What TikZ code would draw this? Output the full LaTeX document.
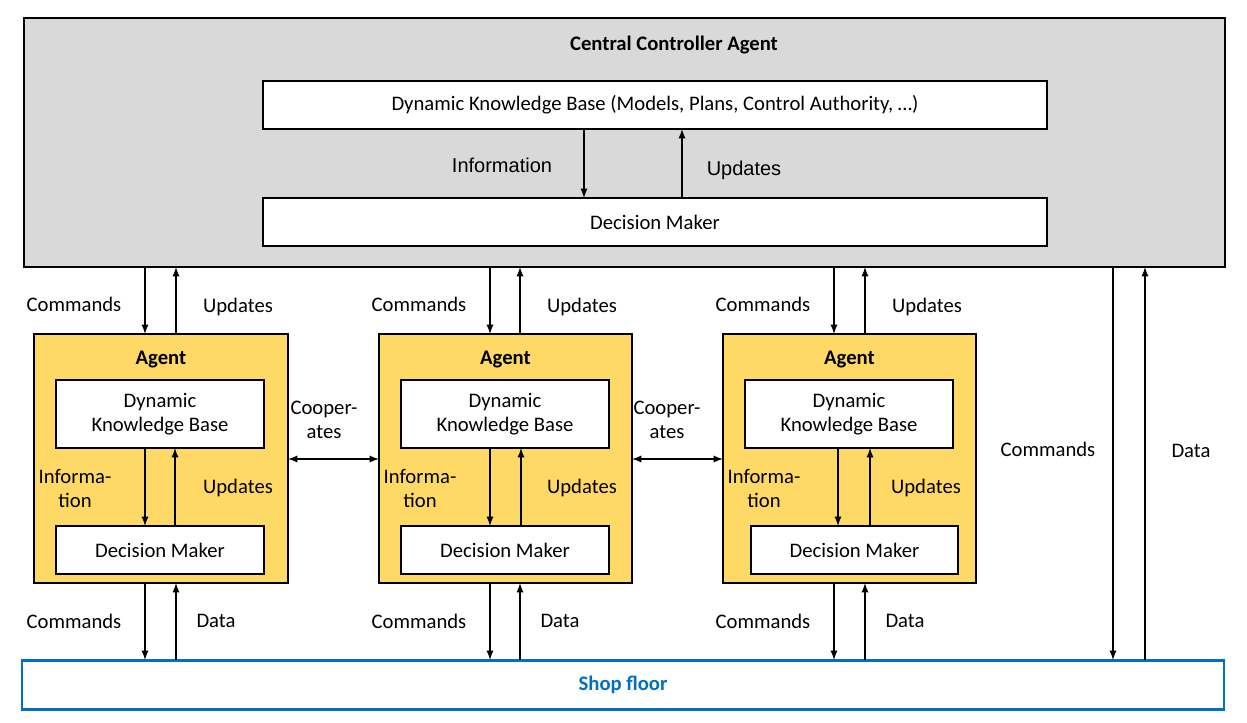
\documentclass[tikz,border=0pt]{standalone}
\usepackage{fontspec}
\setmainfont{Carlito}
\newfontfamily\arialf{Liberation Sans}
\begin{document}
\begin{tikzpicture}[x=0.75pt,y=-0.75pt,font=\fontsize{15.5}{18}\selectfont,
 box/.style={draw,line width=0.8pt,fill=white,inner sep=0},
 agent/.style={draw,line width=2pt,fill=agentY,inner sep=0},
 arr/.style={-latex,line width=1.4pt},
 lbl/.style={align=center,inner sep=1pt}]
\definecolor{agentY}{HTML}{FFD966}
\definecolor{cgray}{HTML}{D9D9D9}
\definecolor{sblue}{HTML}{0070C0}
\useasboundingbox (0,0) rectangle (1247,723);
% central
\path[draw,line width=2pt,fill=cgray] (24,18) rectangle (1225,267);
\node[font=\fontsize{15.5}{18}\selectfont\bfseries] (ct) at (674,45) {Central Controller Agent};
\node[box,minimum width=784*0.75pt,minimum height=48*0.75pt] (cdkb) at (655,105) {Dynamic Knowledge Base (Models, Plans, Control Authority, …)};
\node[box,minimum width=784*0.75pt,minimum height=48*0.75pt] (cdm) at (655,222) {Decision Maker};
\draw[arr] (584,129) -- (584,198);
\draw[arr] (682,198) -- (682,129);
\node[lbl,font=\arialf\fontsize{15}{18}\selectfont] (li) at (502,165) {Information};
\node[lbl,font=\arialf\fontsize{15}{18}\selectfont] (lu) at (744,170) {Updates};
% shop floor
\node[draw=sblue,line width=2pt,fill=white,minimum width=1202*0.75pt,minimum height=49*0.75pt,text=sblue,font=\fontsize{15.5}{18}\selectfont\bfseries] (sf) at (623,685) {Shop floor};
% agents
\foreach \i/\xl/\xr/\dx/\dy/\da/\db/\dl/\dr/\ta/\tb in {1/34/288/56/264/145/175/56/264/145/176,2/379/632/401/609/490/521/401/609/490/520,3/723/976/745/953/838/870/751/958/834/865}{
 \path[agent] (\xl,334) rectangle (\xr,583);
 \node[font=\fontsize{15.5}{18}\selectfont\bfseries] (ag\i) at ({(\xl+\xr)/2},360) {Agent};
 \path[box] (\dx,380) rectangle (\dy,448);
 \node[lbl] (dkb\i) at ({(\dx+\dy)/2},414) {Dynamic\\Knowledge Base};
 \path[box] (\dl,526) rectangle (\dr,574);
 \node[lbl] (dm\i) at ({(\dl+\dr)/2},550) {Decision Maker};
 \draw[arr] (\da,448) -- (\da,526);
 \draw[arr] (\db,526) -- (\db,448);
 \node[lbl] (inf\i) at ({\xl+41},488) {Informa-\\tion};
 \node[lbl] (up\i) at ({\xr-50},488) {Updates};
 \draw[arr] (\ta,267) -- (\ta,334);
 \draw[arr] (\tb,334) -- (\tb,267);
 \node[lbl] (tc\i) at ({\ta-71},304) {Commands};
 \node[lbl] (tu\i) at ({\tb+62},307) {Updates};
 \draw[arr] (\ta,583) -- (\ta,660);
 \draw[arr] (\tb,660) -- (\tb,583);
 \node[lbl] (bc\i) at ({\ta-71},621) {Commands};
 \node[lbl] (bd\i) at ({\tb+40},621) {Data};
}
\draw[latex-latex,line width=1.4pt] (288,459) -- (379,459);
\draw[latex-latex,line width=1.4pt] (632,459) -- (723,459);
\node[lbl] (co1) at (324,420) {Cooper-\\ates};
\node[lbl] (co2) at (667,420) {Cooper-\\ates};
\draw[arr] (1113,267) -- (1113,660);
\draw[arr] (1145,660) -- (1145,267);
\node[lbl] (rc) at (1048,449) {Commands};
\node[lbl] (rd) at (1191,451) {Data};
\end{tikzpicture}
\end{document}
